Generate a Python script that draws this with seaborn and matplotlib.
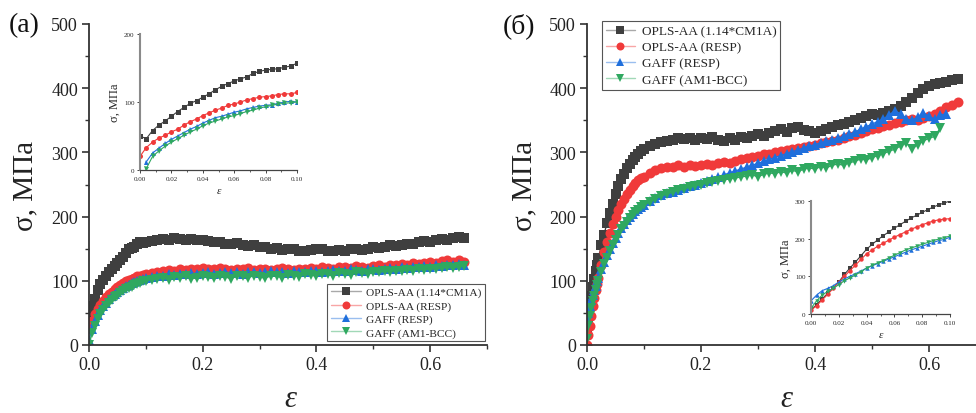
import numpy as np
import pandas as pd
import seaborn as sns
import matplotlib
matplotlib.use("Agg")
import matplotlib.pyplot as plt
from matplotlib.ticker import MultipleLocator, FormatStrFormatter
from matplotlib.colors import to_rgb

# ---------------- data ----------------
labels = ["OPLS-AA (1.14*CM1A)", "OPLS-AA (RESP)", "GAFF (RESP)", "GAFF (AM1-BCC)"]
colors = ["#3f3f3f", "#f03a3a", "#1f6fdc", "#2fa860"]
markers = ["s", "o", "^", "v"]

# panel (a) strain grid
xa = [0.0, 0.005, 0.01, 0.015, 0.02, 0.025, 0.03, 0.035, 0.04, 0.045,
      0.05, 0.055, 0.06, 0.065, 0.07, 0.075, 0.08, 0.085, 0.09, 0.095, 0.10,
      0.11, 0.12,
      0.13, 0.14, 0.15, 0.16, 0.17, 0.18, 0.19, 0.20, 0.21, 0.22,
      0.23, 0.24, 0.25, 0.26, 0.27, 0.28, 0.29, 0.30, 0.31, 0.32,
      0.33, 0.34, 0.35, 0.36, 0.37, 0.38, 0.39, 0.40, 0.41, 0.42,
      0.43, 0.44, 0.45, 0.46, 0.47, 0.48, 0.49, 0.50, 0.51, 0.52,
      0.53, 0.54, 0.55, 0.56, 0.57, 0.58, 0.59, 0.60, 0.61, 0.62,
      0.63, 0.64, 0.65, 0.66]
a_opls_cm1a = [45, 60, 72, 85, 95, 102, 108, 113, 118, 123,
               128, 133, 137, 144, 150, 151, 153, 157, 160, 159, 160,
               162, 163,
               165, 164, 166, 165, 163, 165, 164, 163, 162, 160,
               161, 158, 157, 159, 155, 154, 156, 152, 153, 150,
               151, 148, 150, 149, 147, 146, 148, 150, 149, 147,
               146, 148, 147, 149, 150, 148, 150, 152, 151, 153,
               155, 154, 156, 158, 157, 160, 162, 161, 163, 165,
               164, 166, 168, 167]
a_opls_resp = [25, 38, 48, 56, 63, 69, 74, 79, 83, 87,
               90, 93, 96, 99, 101, 103, 105, 107, 108, 109, 110,
               112, 114,
               115, 117, 116, 118, 117, 119, 118, 120, 119, 118,
               120, 119, 117, 119, 118, 120, 117, 118, 119, 117,
               118, 120, 118, 117, 119, 118, 120, 119, 121, 120,
               118, 121, 122, 120, 123, 121, 120, 123, 124, 122,
               125, 124, 126, 125, 127, 126, 128, 130, 128, 131,
               133, 130, 132, 130]
a_gaff_resp = [8, 25, 37, 46, 54, 60, 66, 71, 76, 80,
               83, 86, 89, 92, 94, 96, 98, 100, 101, 103, 104,
               106, 107,
               108, 110, 109, 111, 110, 112, 111, 112, 113, 111,
               112, 114, 112, 113, 111, 113, 114, 112, 113, 115,
               113, 114, 112, 115, 114, 113, 115, 116, 114, 115,
               117, 115, 116, 118, 117, 116, 118, 119, 117, 119,
               120, 119, 121, 120, 122, 121, 123, 122, 124, 123,
               125, 124, 126, 125]
a_gaff_am1 = [0, 18, 30, 40, 48, 54, 60, 65, 70, 74,
              77, 81, 84, 87, 89, 91, 93, 95, 97, 99, 100,
              102, 103,
              105, 102, 106, 105, 107, 103, 105, 107, 106, 104,
              107, 106, 103, 108, 107, 105, 108, 106, 104, 108,
              107, 105, 109, 108, 106, 110, 109, 107, 111, 110,
              108, 112, 111, 109, 113, 112, 110, 114, 113, 115,
              114, 116, 115, 117, 116, 118, 117, 119, 118, 120,
              121, 120, 122, 123]

# panel (b) strain grid
xb = [0.0, 0.0025, 0.005, 0.0075, 0.01, 0.0125, 0.015, 0.0175, 0.02, 0.025,
      0.03, 0.035, 0.04, 0.045, 0.05, 0.055, 0.06, 0.065, 0.07, 0.075,
      0.08, 0.085, 0.09, 0.095, 0.10,
      0.11, 0.12, 0.13,
      0.14, 0.15, 0.16, 0.17, 0.18, 0.19, 0.20, 0.21, 0.22, 0.23,
      0.24, 0.25, 0.26, 0.27, 0.28, 0.29, 0.30, 0.31, 0.32, 0.33,
      0.34, 0.35, 0.36, 0.37, 0.38, 0.39, 0.40, 0.41, 0.42, 0.43,
      0.44, 0.45, 0.46, 0.47, 0.48, 0.49, 0.50, 0.51, 0.52, 0.53,
      0.54, 0.55, 0.56, 0.57, 0.58, 0.59, 0.60, 0.61, 0.62, 0.63,
      0.64, 0.65]
b_opls_cm1a = [20, 40, 60, 76, 90, 103, 115, 125, 135, 155,
               172, 190, 205, 220, 235, 247, 258, 267, 275, 282,
               288, 293, 298, 302, 305,
               310, 313, 316,
               318, 320, 322, 321, 323, 320, 322, 321, 324, 320,
               318, 322, 320, 324, 322, 325, 328, 326, 330, 333,
               336, 332, 338, 340, 335, 333, 330, 334, 337, 340,
               342, 345, 348, 350, 353, 356, 360, 358, 362, 365,
               368, 372, 378, 385, 392, 398, 403, 406, 408, 410,
               412, 415]
b_opls_resp = [0, 15, 30, 45, 60, 73, 85, 95, 105, 125,
               145, 160, 175, 188, 200, 210, 220, 228, 235, 242,
               248, 253, 257, 260, 262,
               268, 272, 275,
               277, 278, 280, 278, 281, 279, 280, 282, 280, 283,
               285, 283, 287, 289, 291, 293, 295, 297, 298, 300,
               302, 303, 305, 307, 308, 310, 312, 314, 316, 318,
               320, 322, 325, 327, 330, 333, 336, 338, 341, 343,
               346, 348, 350, 352, 350, 353, 356, 360, 365, 370,
               374, 378]
b_gaff_resp = [40, 50, 60, 70, 78, 85, 92, 99, 105, 118,
               130, 140, 150, 159, 167, 175, 182, 188, 194, 199,
               204, 208, 212, 215, 218,
               224, 229, 233,
               236, 239, 242, 245, 248, 250, 253, 256, 259, 262,
               265, 268, 271, 274, 277, 280, 283, 286, 289, 292,
               295, 298, 301, 304, 307, 310, 312, 315, 317, 320,
               322, 325, 328, 332, 336, 340, 344, 348, 352, 358,
               365, 360, 352, 350, 355, 362, 356, 352, 358, 360]
b_gaff_am1 = [10, 30, 45, 57, 68, 77, 85, 93, 100, 113,
              126, 136, 146, 155, 164, 172, 180, 186, 192, 198,
              203, 207, 211, 215, 218,
              223, 228, 232,
              235, 238, 241, 243, 246, 248, 250, 252, 254, 256,
              257, 259, 260, 262, 263, 265, 262, 266, 268, 267,
              270, 268, 272, 270, 274, 276, 274, 278, 276, 280,
              282, 280, 284, 286, 290, 288, 292, 295, 298, 302,
              305, 310, 315, 305, 312, 318, 322, 325, 338]

# inset strain grid (both insets)
x_in = [0.0, 0.004, 0.008, 0.012, 0.016, 0.020, 0.024, 0.028, 0.032, 0.036,
        0.040, 0.044, 0.048, 0.052, 0.056, 0.060, 0.064, 0.068, 0.072, 0.076,
        0.080, 0.084, 0.088, 0.092, 0.096, 0.100]
ia_opls_cm1a = [50, 46, 58, 66, 72, 79, 86, 92, 98, 102, 107, 112, 118, 123, 127,
                131, 134, 137, 142, 145, 147, 148, 149, 151, 153, 157]
ia_opls_resp = [20, 33, 41, 47, 51, 56, 60, 66, 71, 75, 80, 84, 88, 91, 95,
                97, 100, 103, 105, 107, 108, 109, 111, 112, 112, 114]
ia_gaff_resp = [np.nan, 12, 25, 32, 39, 45, 50, 55, 60, 64, 69, 73, 77, 79, 82,
                85, 87, 90, 92, 94, 95, 96, 98, 100, 101, 100]
ia_gaff_am1 = [np.nan, 2, 20, 28, 35, 41, 46, 51, 56, 60, 65, 69, 72, 75, 78,
               80, 83, 86, 88, 91, 93, 95, 97, 98, 99, 100]
ib_opls_cm1a = [10, 25, 40, 55, 70, 85, 105, 122, 138, 155, 172, 185, 197, 208, 218,
                228, 237, 246, 255, 262, 270, 277, 284, 290, 295, 300]
ib_opls_resp = [10, 22, 37, 52, 68, 85, 100, 115, 130, 145, 160, 170, 180, 188, 196,
                204, 211, 218, 225, 231, 237, 242, 247, 250, 252, 253]
ib_gaff_resp = [35, 50, 62, 68, 75, 85, 93, 100, 107, 114, 122, 128, 134, 140, 146,
                152, 158, 164, 170, 175, 180, 185, 190, 195, 198, 204]
ib_gaff_am1 = [15, 35, 50, 60, 68, 78, 88, 96, 104, 112, 122, 129, 136, 142, 149,
               156, 163, 170, 175, 180, 185, 190, 195, 199, 203, 207]

series_a = [a_opls_cm1a, a_opls_resp, a_gaff_resp, a_gaff_am1]
series_b = [b_opls_cm1a, b_opls_resp, b_gaff_resp, b_gaff_am1]
series_ia = [ia_opls_cm1a, ia_opls_resp, ia_gaff_resp, ia_gaff_am1]
series_ib = [ib_opls_cm1a, ib_opls_resp, ib_gaff_resp, ib_gaff_am1]

# ---------------- style ----------------
sns.set_theme(style="ticks")
SERIF = ["Liberation Serif", "DejaVu Serif"]
plt.rcParams["font.family"] = SERIF
plt.rcParams["axes.linewidth"] = 1.3
AX_COL = "#333333"

W, H = 976, 414
fig = plt.figure(figsize=(W / 100, H / 100), dpi=100)


def px_axes(x0, y0, x1, y1):
    return [x0 / W, 1 - y1 / H, (x1 - x0) / W, (y1 - y0) / H]


def lighten(c, f=0.55):
    r, g, b = to_rgb(c)
    return (r + (1 - r) * f, g + (1 - g) * f, b + (1 - b) * f)


def style_main(ax):
    for s in ["top", "right"]:
        ax.spines[s].set_visible(False)
    for s in ["left", "bottom"]:
        ax.spines[s].set_color(AX_COL)
        ax.spines[s].set_linewidth(1.3)
    ax.set_ylim(0, 500)
    ax.xaxis.set_major_locator(MultipleLocator(0.2))
    ax.xaxis.set_minor_locator(MultipleLocator(0.1))
    ax.xaxis.set_major_formatter(FormatStrFormatter("%.1f"))
    ax.yaxis.set_major_locator(MultipleLocator(100))
    ax.yaxis.set_minor_locator(MultipleLocator(50))
    ax.tick_params(which="major", direction="out", length=5, width=1.2,
                   color=AX_COL, labelsize=13, labelcolor="#222222", pad=3)
    ax.tick_params(which="minor", direction="out", length=3, width=1.0, color=AX_COL)
    ax.set_ylabel("σ, МПа", fontsize=21, color="#222222")
    ax.set_xlabel("ε", fontsize=22, fontstyle="italic", color="#222222")
    ax.grid(False)


def draw(ax, x, ys, ms, lw):
    for y, lab, c, m in zip(ys, labels, colors, markers):
        sns.lineplot(x=x[:len(y)], y=y, ax=ax, color=c, marker=m, markersize=ms,
                     markeredgewidth=0, linewidth=lw, label=lab, sort=False)


def fix_legend(leg):
    leg.get_frame().set_linewidth(0.8)
    for h, c in zip(leg.get_lines(), colors):
        h.set_color(lighten(c))
        h.set_markerfacecolor(c)
        h.set_markeredgecolor(c)
        h.set_linewidth(1.0)


def style_inset(ax, ymax, ystep):
    for s in ["top", "right"]:
        ax.spines[s].set_visible(False)
    ax.spines["left"].set_color("#8a8a8a")
    ax.spines["left"].set_linewidth(1.5)
    ax.spines["bottom"].set_color("#444444")
    ax.spines["bottom"].set_linewidth(0.9)
    ax.set_xlim(0, 0.1)
    ax.set_ylim(0, ymax)
    ax.xaxis.set_major_locator(MultipleLocator(0.02))
    ax.xaxis.set_minor_locator(MultipleLocator(0.01))
    ax.xaxis.set_major_formatter(FormatStrFormatter("%.2f"))
    ax.yaxis.set_major_locator(MultipleLocator(ystep))
    ax.tick_params(which="major", direction="out", length=2.5, width=0.7,
                   color="#444444", labelsize=5, pad=1.5)
    ax.tick_params(which="minor", direction="out", length=1.5, width=0.6, color="#444444")
    ax.set_ylabel("σ, МПа", fontsize=9, labelpad=2)
    ax.set_xlabel("ε", fontsize=8, fontstyle="italic", labelpad=4)
    ax.patch.set_alpha(0)
    ax.grid(False)
    lg = ax.get_legend()
    if lg is not None:
        lg.remove()


# ---------------- panel (a) ----------------
axA = fig.add_axes(px_axes(89, 25, 487, 346))
draw(axA, xa, series_a, 7.2, 1.0)
axA.set_xlim(0, 0.7)
style_main(axA)
axA.yaxis.set_label_coords(-0.128, 0.5)
axA.xaxis.set_label_coords(0.505, -0.12)
legA = axA.legend(loc="lower right", bbox_to_anchor=(0.995, 0.012), borderaxespad=0,
                  fontsize=8.2, frameon=True, fancybox=False, edgecolor="#555555",
                  framealpha=1, handlelength=2.6, labelspacing=0.28,
                  borderpad=0.3, handletextpad=0.5, markerscale=0.8)
fix_legend(legA)

# ---------------- panel (b) ----------------
axB = fig.add_axes(px_axes(587, 25, 986, 346))
draw(axB, xb, series_b, 7.2, 1.0)
axB.set_xlim(0, 0.7)
style_main(axB)
axB.yaxis.set_label_coords(-0.125, 0.5)
axB.xaxis.set_label_coords(0.5, -0.12)
legB = axB.legend(loc="upper left", bbox_to_anchor=(0.0376, 1.009), borderaxespad=0,
                  fontsize=9.5, frameon=True, fancybox=False, edgecolor="#555555",
                  framealpha=1, handlelength=2.2, labelspacing=0.3,
                  borderpad=0.3, handletextpad=0.5, markerscale=0.8)
fix_legend(legB)

# ---------------- insets ----------------
inA = fig.add_axes(px_axes(140, 35, 297, 171))
draw(inA, x_in, series_ia, 3.6, 0.8)
style_inset(inA, 200, 100)

inB = fig.add_axes(px_axes(811, 202, 950, 315))
draw(inB, x_in, series_ib, 3.2, 0.8)
style_inset(inB, 300, 100)

# ---------------- panel letters ----------------
fig.text(9 / W, 1 - 13 / H, "(a)", fontsize=20, va="top", ha="left", color="#111111")
fig.text(503 / W, 1 - 13 / H, "(б)", fontsize=20, va="top", ha="left", color="#111111")

fig.savefig("out.png", dpi=100)
